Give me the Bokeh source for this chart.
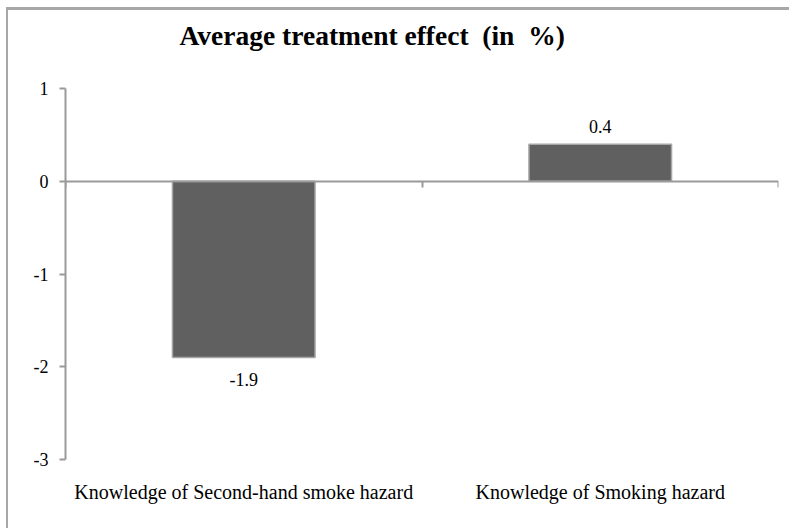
from bokeh.plotting import figure
from bokeh.layouts import column
from bokeh.models import (Range1d, LinearAxis, FixedTicker, ColumnDataSource,
                          LabelSet, Title)
from bokeh.embed import file_html
from bokeh.resources import INLINE

title_text = "Average treatment effect\u00a0\u00a0(in\u00a0\u00a0%)"
categories = ["Knowledge of Second-hand smoke hazard", "Knowledge of Smoking hazard"]
values = [-1.9, 0.4]
value_labels = ["-1.9", "0.4"]
y_ticks = [1, 0, -1, -2, -3]
y_tick_labels = ["1", "0", "-1", "-2", "-3"]

xs = [i + 0.5 for i in range(len(categories))]
bounds = list(range(len(categories) + 1))

src = ColumnDataSource(dict(
    x=xs, top=[max(v, 0) for v in values], bottom=[min(v, 0) for v in values],
    lab=value_labels, ly=values,
    off=[18 if v >= 0 else -22 for v in values],
))

p = figure(width=781, height=518, output_backend="svg", toolbar_location=None,
           x_range=Range1d(0, len(categories)), y_range=Range1d(-3, 1),
           x_axis_type=None, y_axis_type=None,
           min_border_left=57, min_border_right=11, min_border_top=78,
           min_border_bottom=69)
p.outline_line_color = None
p.xgrid.visible = False
p.ygrid.visible = False

# second (blank) line keeps the title high above the plot area
t = Title(text=title_text + "\n\u00a0", align="left", offset=114, vertical_align="top",
          text_font="Liberation Serif", text_font_size="27.5px", text_font_style="bold",
          text_color="#000000", standoff=10)
p.add_layout(t, "above")

# y axis
ya = LinearAxis(ticker=FixedTicker(ticks=y_ticks))
ya.major_label_overrides = {v: s for v, s in zip(y_ticks, y_tick_labels)}
ya.axis_line_color = "#9a9a9a"
ya.axis_line_width = 2
ya.major_tick_line_color = "#9a9a9a"
ya.major_tick_line_width = 2
ya.major_tick_out = 6
ya.major_tick_in = 0
ya.minor_tick_line_color = None
ya.major_label_standoff = 11
ya.major_label_text_font = "Liberation Serif"
ya.major_label_text_font_size = "18px"
ya.major_label_text_color = "#000000"
p.add_layout(ya, "left")

# category labels at bottom
xa = LinearAxis(ticker=FixedTicker(ticks=xs))
xa.major_label_overrides = {x: c for x, c in zip(xs, categories)}
xa.axis_line_color = None
xa.major_tick_line_color = None
xa.minor_tick_line_color = None
xa.major_label_standoff = 15
xa.major_label_text_font = "Liberation Serif"
xa.major_label_text_font_size = "20px"
xa.major_label_text_color = "#000000"
p.add_layout(xa, "below")

# zero axis line with category boundary ticks
za = LinearAxis(ticker=FixedTicker(ticks=bounds), fixed_location=0)
za.axis_line_color = "#9a9a9a"
za.axis_line_width = 2
za.major_tick_line_color = "#9a9a9a"
za.major_tick_line_width = 2
za.major_tick_out = 6
za.major_tick_in = 0
za.minor_tick_line_color = None
za.major_label_text_font_size = "0px"
za.major_label_text_alpha = 0
p.add_layout(za, "below")

p.vbar(x="x", top="top", bottom="bottom", width=0.4, source=src,
       fill_color="#606060", line_color="#a6a6a6", line_width=1.5)

labels = LabelSet(x="x", y="ly", text="lab", y_offset="off", source=src,
                  text_align="center", text_baseline="middle",
                  text_font="Liberation Sans", text_font_size="18px",
                  text_color="#000000")
p.add_layout(labels)

layout = column(p, styles={"border-top": "3px solid #a8a8a8",
                           "border-left": "2px solid #a8a8a8",
                           "margin-left": "6px", "margin-top": "7px"})

open("out.html", "w").write(file_html(layout, INLINE))
